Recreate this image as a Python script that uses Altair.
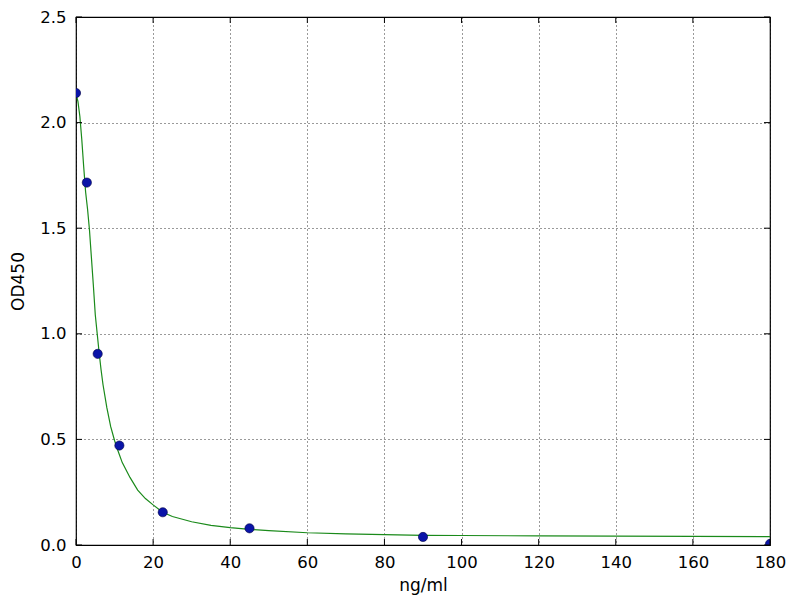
import altair as alt
import pandas as pd

# measured standard points
conc = [0, 2.8125, 5.625, 11.25, 22.5, 45, 90, 180]
od = [2.14, 1.716, 0.905, 0.471, 0.155, 0.079, 0.038, 0.005]

# fitted curve
curve_x = [0, 0.5, 1, 1.5, 2, 2.5, 3, 3.5, 4, 4.5, 5, 5.5, 6, 6.5, 7, 8, 9, 10, 11, 12, 14, 16, 18, 20,
           22.5, 25, 30, 35, 40, 45, 50, 60, 70, 80, 90, 100, 120, 140, 160, 180]
curve_y = [2.14, 2.10, 2.03, 1.92, 1.79, 1.67, 1.59, 1.49, 1.36, 1.23, 1.09, 1.0, 0.91, 0.83, 0.76, 0.65,
           0.56, 0.495, 0.44, 0.39, 0.32, 0.26, 0.22, 0.19, 0.155, 0.135, 0.11, 0.093, 0.082, 0.074,
           0.068, 0.058, 0.053, 0.049, 0.046, 0.045, 0.043, 0.042, 0.041, 0.040]

x_ticks = [0, 20, 40, 60, 80, 100, 120, 140, 160, 180]
y_ticks = [0.0, 0.5, 1.0, 1.5, 2.0, 2.5]

W, H = 694, 528
FONT = "DejaVu Sans"

pts = pd.DataFrame({"x": conc, "y": od})
crv = pd.DataFrame({"x": curve_x, "y": curve_y})
xt = pd.DataFrame({"x": x_ticks})
yt = pd.DataFrame({"y": y_ticks})

xs = alt.Scale(domain=[0, 180], nice=False, zero=False)
ys = alt.Scale(domain=[0, 2.5], nice=False, zero=False)

x_axis = alt.Axis(values=x_ticks, grid=True, gridColor="black", gridDash=[1, 3], gridWidth=0.8,
                  gridOpacity=1, ticks=False, domain=False, labelFont=FONT, labelFontSize=16.5,
                  labelColor="black", labelPadding=9, title="ng/ml", titleFont=FONT,
                  titleFontSize=17, titleFontWeight="normal", titleColor="black", titlePadding=7,
                  labelFlush=False, labelOverlap=False)
y_axis = alt.Axis(values=y_ticks, grid=True, gridColor="black", gridDash=[1, 3], gridWidth=0.8,
                  gridOpacity=1, ticks=False, domain=False, labelFont=FONT, labelFontSize=16.5,
                  labelColor="black", labelPadding=10, format=".1f", title="OD450", titleFont=FONT,
                  titleFontSize=17, titleFontWeight="normal", titleColor="black", titlePadding=12,
                  labelFlush=False, labelOverlap=False)

line = alt.Chart(crv).mark_line(color="#1a8a1a", strokeWidth=1.2, clip=True).encode(
    x=alt.X("x:Q", scale=xs, axis=x_axis),
    y=alt.Y("y:Q", scale=ys, axis=y_axis),
)

points = alt.Chart(pts).mark_circle(size=85, color="#0a14a8", opacity=1, stroke="#000044",
                                    strokeWidth=0.6, clip=True).encode(
    x=alt.X("x:Q", scale=xs),
    y=alt.Y("y:Q", scale=ys),
)

# inward ticks on all four sides
tick_bottom = alt.Chart(xt).mark_rule(color="black", strokeWidth=1).encode(
    x=alt.X("x:Q", scale=xs), y=alt.value(H), y2=alt.value(H - 6))
tick_top = alt.Chart(xt).mark_rule(color="black", strokeWidth=1).encode(
    x=alt.X("x:Q", scale=xs), y=alt.value(0), y2=alt.value(6))
tick_left = alt.Chart(yt).mark_rule(color="black", strokeWidth=1).encode(
    y=alt.Y("y:Q", scale=ys), x=alt.value(0), x2=alt.value(6))
tick_right = alt.Chart(yt).mark_rule(color="black", strokeWidth=1).encode(
    y=alt.Y("y:Q", scale=ys), x=alt.value(W), x2=alt.value(W - 6))

chart = alt.layer(line, points, tick_bottom, tick_top, tick_left, tick_right).properties(
    width=W, height=H,
    autosize=alt.AutoSizeParams(type="none"),
    padding={"left": 68, "top": 9, "right": 22, "bottom": 55},
    background="white",
).configure_view(stroke="black", strokeWidth=1.2)

chart.save("out.html", embed_options={"renderer": "svg", "actions": False})
